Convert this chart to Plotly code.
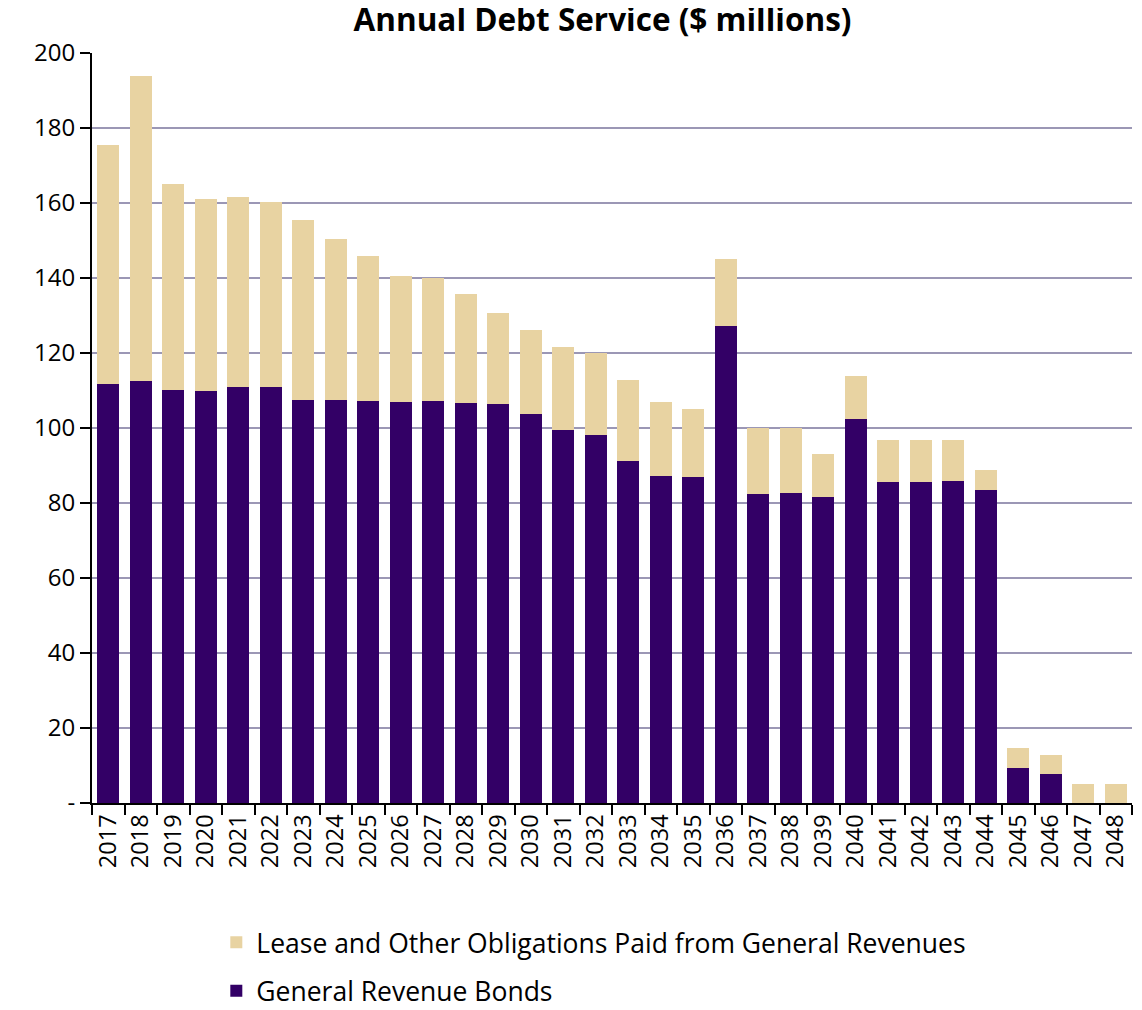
import plotly.graph_objects as go

years = [str(y) for y in range(2017, 2049)]
general_revenue_bonds = [111.7, 112.5, 110.1, 109.9, 110.9, 110.9, 107.5, 107.5, 107.2, 106.9,
                         107.2, 106.7, 106.4, 103.7, 99.5, 98.1, 91.2, 87.2, 86.9, 127.2,
                         82.4, 82.7, 81.6, 102.4, 85.6, 85.6, 85.9, 83.5, 9.3, 7.7, 0, 0]
totals = [175.5, 193.9, 165.1, 161.1, 161.6, 160.3, 155.5, 150.4, 145.9, 140.5,
          140.0, 135.7, 130.7, 126.1, 121.6, 120.0, 112.8, 106.9, 105.1, 145.1,
          100.0, 100.0, 93.1, 113.9, 96.8, 96.8, 96.8, 88.8, 14.7, 12.8, 5.1, 5.1]
lease_other = [round(t - g, 1) for t, g in zip(totals, general_revenue_bonds)]

y_tickvals = [0, 20, 40, 60, 80, 100, 120, 140, 160, 180, 200]
y_ticktext = ["-", "20", "40", "60", "80", "100", "120", "140", "160", "180", "200"]

fig = go.Figure()
fig.add_trace(go.Bar(x=years, y=general_revenue_bonds, name="General Revenue Bonds",
                     legendgroup="g", legendrank=2,
                     marker=dict(color="#330066", line=dict(width=0))))
fig.add_trace(go.Bar(x=years, y=lease_other, name="Lease and Other Obligations Paid from General Revenues",
                     legendgroup="l", legendrank=1,
                     marker=dict(color="#E8D3A2", line=dict(width=0))))

fig.update_layout(
    barmode="stack",
    bargap=0.32,
    width=1126, height=1002,
    paper_bgcolor="white", plot_bgcolor="white",
    margin=dict(l=84, r=2, t=45, b=207, autoexpand=False),
    font=dict(family="Open Sans", size=24, color="black"),
    title=dict(text="<b>Annual Debt Service ($ millions)</b>", x=0.528, xanchor="center",
               y=0.999, yanchor="top", font=dict(size=31.5, family="Open Sans", color="black")),
    showlegend=True,
    legend=dict(orientation="v", traceorder="grouped", xref="container", yref="container",
                x=0.185, y=0.0913, xanchor="left", yanchor="top",
                font=dict(size=26.5, family="Open Sans", color="black"),
                tracegroupgap=11, itemwidth=30),
    xaxis=dict(type="category", showline=True, linecolor="black", linewidth=2,
               ticks="outside", tickson="boundaries", ticklen=10, tickwidth=2, tickcolor="black",
               tickangle=-90, tickfont=dict(size=23.5), showgrid=False, dtick=1),
    yaxis=dict(range=[0, 200], tickvals=y_tickvals, ticktext=y_ticktext,
               showline=True, linecolor="black", linewidth=2,
               ticks="outside", ticklen=10, tickwidth=2, tickcolor="black",
               showgrid=True, gridcolor="#9b97b5", gridwidth=2, zeroline=False,
               tickfont=dict(size=24)),
)

fig.write_html("out.html")
